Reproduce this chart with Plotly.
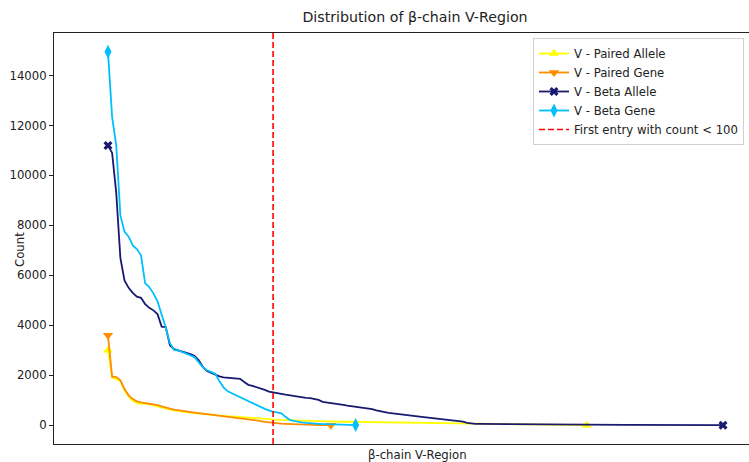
import plotly.graph_objects as go

# Counts per V-region entry, sorted by descending count
paired_allele = [
    3000, 1900, 1850, 1780, 1400, 1150, 980, 890, 860, 860,
    850, 800, 750, 720, 670, 630, 600, 570, 540, 520,
    500, 480, 470, 450, 430, 410, 400, 390, 380, 370,
    360, 350, 340, 330, 320, 310, 300, 290, 270, 250,
    230, 222, 215, 208, 200, 192, 185, 180, 175, 170,
    166, 162, 158, 155, 152, 149, 146, 143, 140, 138,
    136, 134, 132, 130, 128, 126, 124, 122, 120, 118,
    116, 114, 112, 110, 108, 106, 104, 102, 100, 98,
    96, 94, 92, 90, 88, 86, 84, 82, 80, 78,
    75, 72, 70, 67, 64, 61, 58, 55, 52, 49,
    46, 43, 40, 37, 34, 31, 28, 25, 22, 19,
    16, 14, 12, 10, 8, 6, 4,
]

paired_gene = [
    3600, 1950, 1930, 1800, 1450, 1200, 1050, 960, 920, 900,
    880, 850, 810, 760, 700, 670, 630, 600, 570, 550,
    530, 510, 490, 470, 450, 420, 400, 380, 360, 345,
    330, 310, 290, 275, 260, 230, 200, 170, 140, 115,
    95, 80, 70, 60, 50, 40, 30, 25, 20, 18,
    15, 12, 10, 8, 5,
]

beta_allele = [
    11200, 10900, 9300, 6700, 5800, 5500, 5300, 5150, 5100, 4850,
    4700, 4600, 4450, 3950, 3930, 3200, 3050, 3000, 2960, 2900,
    2850, 2770, 2600, 2330, 2170, 2100, 2020, 1960, 1920, 1900,
    1890, 1880, 1860, 1730, 1620, 1580, 1530, 1490, 1420, 1350,
    1310, 1280, 1260, 1230, 1200, 1170, 1140, 1120, 1100, 1090,
    1070, 1020, 940, 920, 905, 890, 860, 820, 790, 770,
    760, 740, 710, 680, 650, 600, 560, 525, 500, 480,
    465, 450, 435, 410, 385, 360, 340, 320, 300, 280,
    260, 240, 230, 220, 205, 180, 150, 100, 65,
    60, 58, 56, 55, 53, 52, 50, 48, 47, 46,
    45, 44, 42, 41, 40, 39, 38, 37, 36, 35,
    34, 33, 32, 31, 30, 29, 28, 27, 26, 25,
    24, 23, 22, 21, 20, 19, 18, 17, 16, 15,
    15, 14, 14, 13, 13, 12, 12, 11, 11, 10,
    10, 9, 9, 8, 8, 7, 7, 6, 6, 5,
    5,
]

beta_gene = [
    14950, 12330, 11200, 8400, 7750, 7550, 7200, 7050, 6800, 5680,
    5530, 5280, 4960, 4450, 3900, 3300, 3020, 3000, 2940, 2880,
    2800, 2720, 2520, 2320, 2200, 2120, 2060, 1760, 1520, 1360,
    1280, 1220, 1140, 1040, 960, 880, 800, 720, 660, 600,
    540, 520, 480, 340, 220, 180, 140, 120, 100, 80,
    70, 60, 50, 45, 40, 35, 30, 25, 20, 15,
    10,
]

series = [
    ("V - Paired Allele", paired_allele, "#FFFF00", "triangle-up", 9),
    ("V - Paired Gene", paired_gene, "#FF8C00", "triangle-down", 9),
    ("V - Beta Allele", beta_allele, "#191970", "x", 8),
    ("V - Beta Gene", beta_gene, "#00BFFF", "diamond-tall", 10),
]

threshold = 100
cutoff_idx = next(i for i, v in enumerate(paired_gene) if v < threshold)

FONT = "DejaVu Sans, Liberation Sans, sans-serif"
y_lo, y_hi = -747.5, 15697.5

fig = go.Figure()

for name, vals, color, symbol, msize in series:
    xs = list(range(len(vals)))
    # the curve itself
    fig.add_trace(go.Scatter(
        x=xs, y=vals, mode="lines", line=dict(color=color, width=1.8),
        showlegend=False, hoverinfo="skip",
    ))
    # markers on the first and last entries only
    fig.add_trace(go.Scatter(
        x=[xs[0], xs[-1]], y=[vals[0], vals[-1]], mode="markers",
        marker=dict(color=color, symbol=symbol, size=msize, line=dict(width=0)),
        showlegend=False, hoverinfo="skip",
    ))
    # legend entry
    fig.add_trace(go.Scatter(
        x=[None], y=[None], mode="lines+markers", name=name,
        line=dict(color=color, width=1.8),
        marker=dict(color=color, symbol=symbol, size=msize, line=dict(width=0)),
    ))

fig.add_trace(go.Scatter(
    x=[cutoff_idx, cutoff_idx], y=[y_lo, y_hi], mode="lines",
    name=f"First entry with count < {threshold}",
    line=dict(color="red", width=1.6, dash="6px,3px"),
))

W, H = 749, 462
L, R, T, B = 54, 0, 33, 18
plot_w = W - L - R

fig.update_layout(
    width=W, height=H,
    margin=dict(l=L, r=R, t=T, b=B),
    paper_bgcolor="white", plot_bgcolor="white",
    font=dict(family=FONT, size=11.7, color="#222"),
    title=dict(
        text="Distribution of β-chain V-Region",
        x=415 / W, xref="container", xanchor="center",
        y=1 - 17 / H, yref="container", yanchor="middle",
        font=dict(family=FONT, size=14.2, color="#222"),
    ),
    showlegend=True,
    legend=dict(
        x=(533 - L) / plot_w, xanchor="left",
        y=1 - (38 - T) / (H - T - B), yanchor="top",
        bgcolor="rgba(255,255,255,0.9)", bordercolor="#d0d0d0", borderwidth=1,
        font=dict(family=FONT, size=11.7, color="#222"),
        tracegroupgap=0,
    ),
    xaxis=dict(
        range=[-13.08, 155.3], showticklabels=False, ticks="",
        showgrid=False, zeroline=False,
        showline=True, mirror=True, linecolor="#222", linewidth=1,
    ),
    yaxis=dict(
        range=[y_lo, y_hi], tickvals=list(range(0, 14001, 2000)),
        tickformat="d", ticks="outside", ticklen=4, tickcolor="#222",
        showgrid=False, zeroline=False,
        showline=True, linecolor="#222", linewidth=1,
        tickfont=dict(family=FONT, size=11.7, color="#222"),
    ),
    annotations=[
        dict(text="Count", x=20 / W, y=1 - 250 / H, xref="paper", yref="paper",
             textangle=-90, showarrow=False, xanchor="center", yanchor="middle",
             font=dict(family=FONT, size=11.7, color="#222")),
        dict(text="β-chain V-Region", x=417 / W, y=1 - 455 / H,
             xref="paper", yref="paper", showarrow=False,
             xanchor="center", yanchor="middle",
             font=dict(family=FONT, size=11.7, color="#222")),
    ],
)

# annotations above use page fractions; convert to plot-area fractions
for ann in fig.layout.annotations:
    px = ann.x * W
    py = (1 - ann.y) * H
    ann.x = (px - L) / plot_w
    ann.y = 1 - (py - T) / (H - T - B)

fig.write_html("out.html")
